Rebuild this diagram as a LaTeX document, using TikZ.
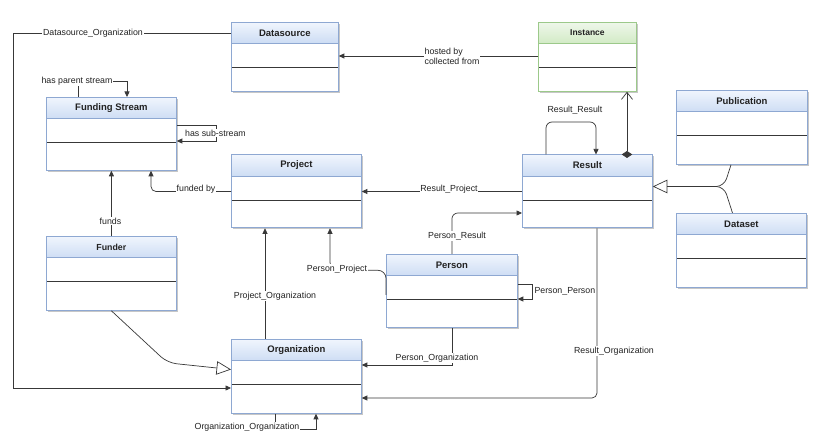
\documentclass[tikz,border=0pt]{standalone}
\usepackage{fontspec}
\setmainfont{Liberation Sans}
\usetikzlibrary{arrows.meta,shadows,calc}
\definecolor{hdrtop}{HTML}{F0F5FD}
\definecolor{hdrbot}{HTML}{7AA3DE}
\definecolor{hdrstroke}{HTML}{8EA8D2}
\definecolor{grtop}{HTML}{EEF7EA}
\definecolor{grbot}{HTML}{92CE72}
\definecolor{grstroke}{HTML}{9CC98A}
\definecolor{linec}{HTML}{383838}
\definecolor{txt}{HTML}{222222}
\begin{document}
\begin{tikzpicture}[x=1pt,y=-1pt,
  umlbox/.style={draw=#1stroke, line width=0.8pt, fill=white, rectangle, inner sep=0pt, anchor=north west,
    drop shadow={shadow xshift=1.2pt, shadow yshift=-1.6pt, opacity=0.22, fill=black},
    path picture={
      \shade[top color=#1top, bottom color=#1bot]
        (path picture bounding box.north west) rectangle ([yshift=-21.5pt]path picture bounding box.north east);
      \draw[#1stroke, line width=0.8pt] ([yshift=-21.5pt]path picture bounding box.north west) -- ([yshift=-21.5pt]path picture bounding box.north east);
      \draw[linec, line width=0.8pt] ([yshift=-45.5pt]path picture bounding box.north west) -- ([yshift=-45.5pt]path picture bounding box.north east);
    }},
  title/.style={font=\bfseries\fontsize{9.5}{11}\selectfont, text=txt, inner sep=0pt},
  lbl/.style={font=\fontsize{8.8}{10}\selectfont, text=txt, fill=white, inner sep=0.8pt},
  conn/.style={draw=linec, line width=0.7pt},
  arr/.style={-{Triangle[length=5.5pt,width=5pt]}},
  gen/.style={-{Triangle[open,length=14.5pt,width=13.5pt,fill=white]}}
]
\fill[white] (0,0) rectangle (820,443);
\useasboundingbox (0,0) rectangle (820,443);

% boxes
\node[umlbox=hdr, minimum width=107pt, minimum height=69pt] (ds) at (231,22) {};
\node[umlbox=gr, minimum width=98pt, minimum height=69pt] (inst) at (538,22) {};
\node[umlbox=hdr, minimum width=130pt, minimum height=73pt] (fs) at (46,97) {};
\node[umlbox=hdr, minimum width=130pt, minimum height=73pt] (proj) at (231,154.5) {};
\node[umlbox=hdr, minimum width=130pt, minimum height=73pt] (res) at (522,154.5) {};
\node[umlbox=hdr, minimum width=131pt, minimum height=74pt] (pub) at (676,90) {};
\node[umlbox=hdr, minimum width=130pt, minimum height=74pt] (dset) at (676,213) {};
\node[umlbox=hdr, minimum width=130pt, minimum height=74pt] (funder) at (46,236) {};
\node[umlbox=hdr, minimum width=130pt, minimum height=74pt] (org) at (231,339) {};
\node[umlbox=hdr, minimum width=131pt, minimum height=73.5pt] (person) at (386,254) {};

% titles
\node[title] (dsT) at ([yshift=-11pt]ds.north) {Datasource};
\node[title,font=\bfseries\fontsize{8.5}{10}\selectfont] (instT) at ([yshift=-11pt]inst.north) {Instance};
\node[title] (fsT) at ([yshift=-11pt]fs.north) {Funding Stream};
\node[title] (projT) at ([yshift=-11pt]proj.north) {Project};
\node[title] (resT) at ([yshift=-11pt]res.north) {Result};
\node[title] (pubT) at ([yshift=-11pt]pub.north) {Publication};
\node[title] (dsetT) at ([yshift=-11pt]dset.north) {Dataset};
\node[title,font=\bfseries\fontsize{8.8}{10}\selectfont] (funderT) at ([yshift=-11pt]funder.north) {Funder};
\node[title] (orgT) at ([yshift=-11pt]org.north) {Organization};
\node[title] (personT) at ([yshift=-11pt]person.north) {Person};

% connectors
\draw[conn,arr] ([yshift=-11pt]ds.north west) -- ++(-218,0) |- ([yshift=-49pt]org.north west);
\draw[conn,arr] ([yshift=-34pt]inst.north west) -- ([yshift=-34pt]ds.north east);
\draw[conn,arr] ([xshift=32pt]fs.north west) -- ++(0,-16) -- ++(49,0) -- ([xshift=81pt]fs.north west);
\draw[conn,arr] ([yshift=-28pt]fs.north east) -- ++(40,0) -- ++(0,16) -- ([yshift=-44pt]fs.north east);
\draw[conn,arr,rounded corners=5pt] ([yshift=-37pt]proj.north west) -| ([xshift=105pt]fs.south west);
\draw[conn,arr] (funder.north) -- (funder.north |- fs.south);
\draw[conn,arr] ([yshift=-37pt]res.north west) -- ([yshift=-37pt]proj.north east);
\draw[conn,arr,rounded corners=6pt] (person.north) |- ([yshift=-58.5pt]res.north west);
\draw[conn,arr,rounded corners=8pt] ([yshift=-41pt]person.north west) |- ([xshift=99pt,yshift=-42pt]proj.south west) -- ([xshift=99pt]proj.south west);
\draw[conn,arr] ([yshift=-30pt]person.north east) -- ++(15,0) |- ([yshift=-45pt]person.north east);
\draw[conn,arr] (person.south) |- ([yshift=-26pt]org.north east);
\draw[conn,arr,rounded corners=5pt] ([xshift=75pt]res.south west) |- ([yshift=-59pt]org.north east);
\draw[conn,arr] ([xshift=34pt]org.north west) -- ([xshift=34pt]proj.south west);
\draw[conn,arr] ([xshift=44pt]org.south west) -- ++(0,16) -| ([xshift=85pt]org.south west);
\draw[conn,arr,rounded corners=6pt] ([xshift=24pt]res.north west) -- ++(0,-32.5) -| ([xshift=74pt]res.north west);
\draw[conn,{Diamond[length=7pt,width=10.5pt]}-{Straight Barb[length=7pt,width=11pt]},shorten <=-3.5pt]
  ([xshift=105pt]res.north west) -- ([xshift=89pt]inst.south west);
\draw[conn,gen,rounded corners=9pt] (funder.south) -- ++(56,52) -- ([yshift=-30.5pt]org.north west);
\coordinate (genj) at (724,186.5);
\draw[conn,rounded corners=8pt] ([xshift=55pt]pub.south west) -- (genj) -- ++(-20,0);
\draw[conn,gen,rounded corners=8pt] ([xshift=56.5pt]dset.north west) -- (genj) -- ([yshift=-32pt]res.north east);

% labels
\node[lbl] (lDO) at (93,33) {Datasource\_Organization};
\node[lbl,align=left] (lHB) at (452,56) {hosted by\\collected from};
\node[lbl] (lHP) at (77,81) {has parent stream};
\node[lbl] (lHS) at (215.5,133) {has sub-stream};
\node[lbl] (lFB) at (196,189.5) {funded by};
\node[lbl] (lFU) at (110.5,221) {funds};
\node[lbl] (lRP) at (449,189.5) {Result\_Project};
\node[lbl,fill=none] (lRR) at (575,110) {Result\_Result};
\node[lbl] (lPR) at (457,236) {Person\_Result};
\node[lbl] (lPP) at (337,269) {Person\_Project};
\node[lbl,fill=none,anchor=west] (lPPe) at (533.5,291.5) {Person\_Person};
\node[lbl] (lPO) at (437,358) {Person\_Organization};
\node[lbl] (lRO) at (614,351) {Result\_Organization};
\node[lbl] (lPjO) at (275,296) {Project\_Organization};
\node[lbl] (lOO) at (247,427) {Organization\_Organization};
\end{tikzpicture}
\end{document}
